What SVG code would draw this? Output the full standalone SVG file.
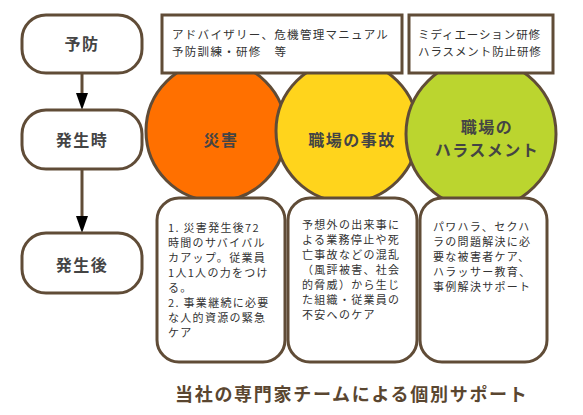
<svg xmlns="http://www.w3.org/2000/svg" width="583" height="415" viewBox="0 0 583 415">
<style>
.node{fill:#fff;stroke:#604c37;stroke-width:3}
.box{fill:#fff;stroke:#604c37;stroke-width:3}
.circ{stroke:#604c37;stroke-width:3}
.lbl{font-family:"Noto Sans CJK JP","Noto Sans",sans-serif;font-size:16px;font-weight:bold;fill:#444;text-anchor:middle;letter-spacing:1.5px}
.sm{font-family:"Noto Sans CJK JP","Noto Sans",sans-serif;font-size:11px;fill:#333;letter-spacing:1.3px}
.tp{font-family:"Noto Sans CJK JP","Noto Sans",sans-serif;font-size:11.5px;fill:#333;letter-spacing:1.3px}
.tp2{font-family:"Noto Sans CJK JP","Noto Sans",sans-serif;font-size:11.5px;fill:#333;letter-spacing:0.9px}
.title{font-family:"Noto Sans CJK JP","Noto Sans",sans-serif;font-size:18px;font-weight:bold;fill:#5a4630;letter-spacing:1.7px}
.conn{stroke:#604c37;stroke-width:3;fill:none}
</style>
<g id="connectors">
<line class="conn" x1="82" y1="73" x2="82" y2="94"/>
<path d="M76,93 L88,93 L82,110 Z" fill="#000"/>
<line class="conn" x1="82" y1="169" x2="82" y2="217"/>
<path d="M76,216 L88,216 L82,233 Z" fill="#000"/>
</g>
<g id="circle-disaster">
<circle class="circ" cx="216" cy="131" r="70" fill="#ff7000"/>
</g>
<g id="circle-accident">
<circle class="circ" cx="347" cy="131" r="71" fill="#ffd41c"/>
</g>
<g id="circle-harassment">
<circle class="circ" cx="481" cy="134" r="75" fill="#bbd52f"/>
</g>
<g id="node-yobou">
<rect class="node" x="22" y="15" width="120" height="58" rx="24"/>
<text class="lbl" x="82" y="50">予防</text>
</g>
<g id="node-hasseiji">
<rect class="node" x="22" y="110" width="120" height="59" rx="24"/>
<text class="lbl" x="82" y="146">発生時</text>
</g>
<g id="node-hasseigo">
<rect class="node" x="22" y="233" width="120" height="60" rx="24"/>
<text class="lbl" x="82" y="271">発生後</text>
</g>
<g id="top-box-1">
<rect class="box" x="162" y="15" width="240" height="58"/>
<text class="tp" x="172" y="39">アドバイザリー、危機管理マニュアル</text>
<text class="tp" x="172" y="56">予防訓練・研修　等</text>
</g>
<g id="top-box-2">
<rect class="box" x="409" y="15" width="144" height="58"/>
<text class="tp2" x="418" y="39">ミディエーション研修</text>
<text class="tp2" x="418" y="56">ハラスメント防止研修</text>
</g>
<g id="label-disaster">
<text class="lbl" x="221" y="146">災害</text>
</g>
<g id="label-accident">
<text class="lbl" x="352" y="146">職場の事故</text>
</g>
<g id="label-harassment">
<text class="lbl" x="487" y="133">職場の</text>
<text class="lbl" x="487" y="156">ハラスメント</text>
</g>
<g id="box-disaster">
<rect class="box" x="157" y="198" width="128" height="164" rx="22"/>
<text class="sm" x="168" y="232">1. 災害発生後72</text>
<text class="sm" x="168" y="247">時間のサバイバル</text>
<text class="sm" x="168" y="262">カアップ。従業員</text>
<text class="sm" x="168" y="277">1人1人の力をつけ</text>
<text class="sm" x="168" y="292">る。</text>
<text class="sm" x="168" y="307">2. 事業継続に必要</text>
<text class="sm" x="168" y="322">な人的資源の緊急</text>
<text class="sm" x="168" y="337">ケア</text>
</g>
<g id="box-accident">
<rect class="box" x="288" y="198" width="129" height="164" rx="22"/>
<text class="sm" x="302" y="229">予想外の出来事に</text>
<text class="sm" x="302" y="244">よる業務停止や死</text>
<text class="sm" x="302" y="259">亡事故などの混乱</text>
<text class="sm" x="302" y="274">（風評被害、社会</text>
<text class="sm" x="302" y="289">的脅威）から生じ</text>
<text class="sm" x="302" y="304">た組織・従業員の</text>
<text class="sm" x="302" y="319">不安へのケア</text>
</g>
<g id="box-harassment">
<rect class="box" x="420" y="198" width="127" height="164" rx="22"/>
<text class="sm" x="433" y="231">パワハラ、セクハ</text>
<text class="sm" x="433" y="246">ラの問題解決に必</text>
<text class="sm" x="433" y="261">要な被害者ケア、</text>
<text class="sm" x="433" y="276">ハラッサー教育、</text>
<text class="sm" x="433" y="291">事例解決サポート</text>
</g>
<g id="title">
<text class="title" x="175" y="401">当社の専門家チームによる個別サポート</text>
</g>
</svg>
